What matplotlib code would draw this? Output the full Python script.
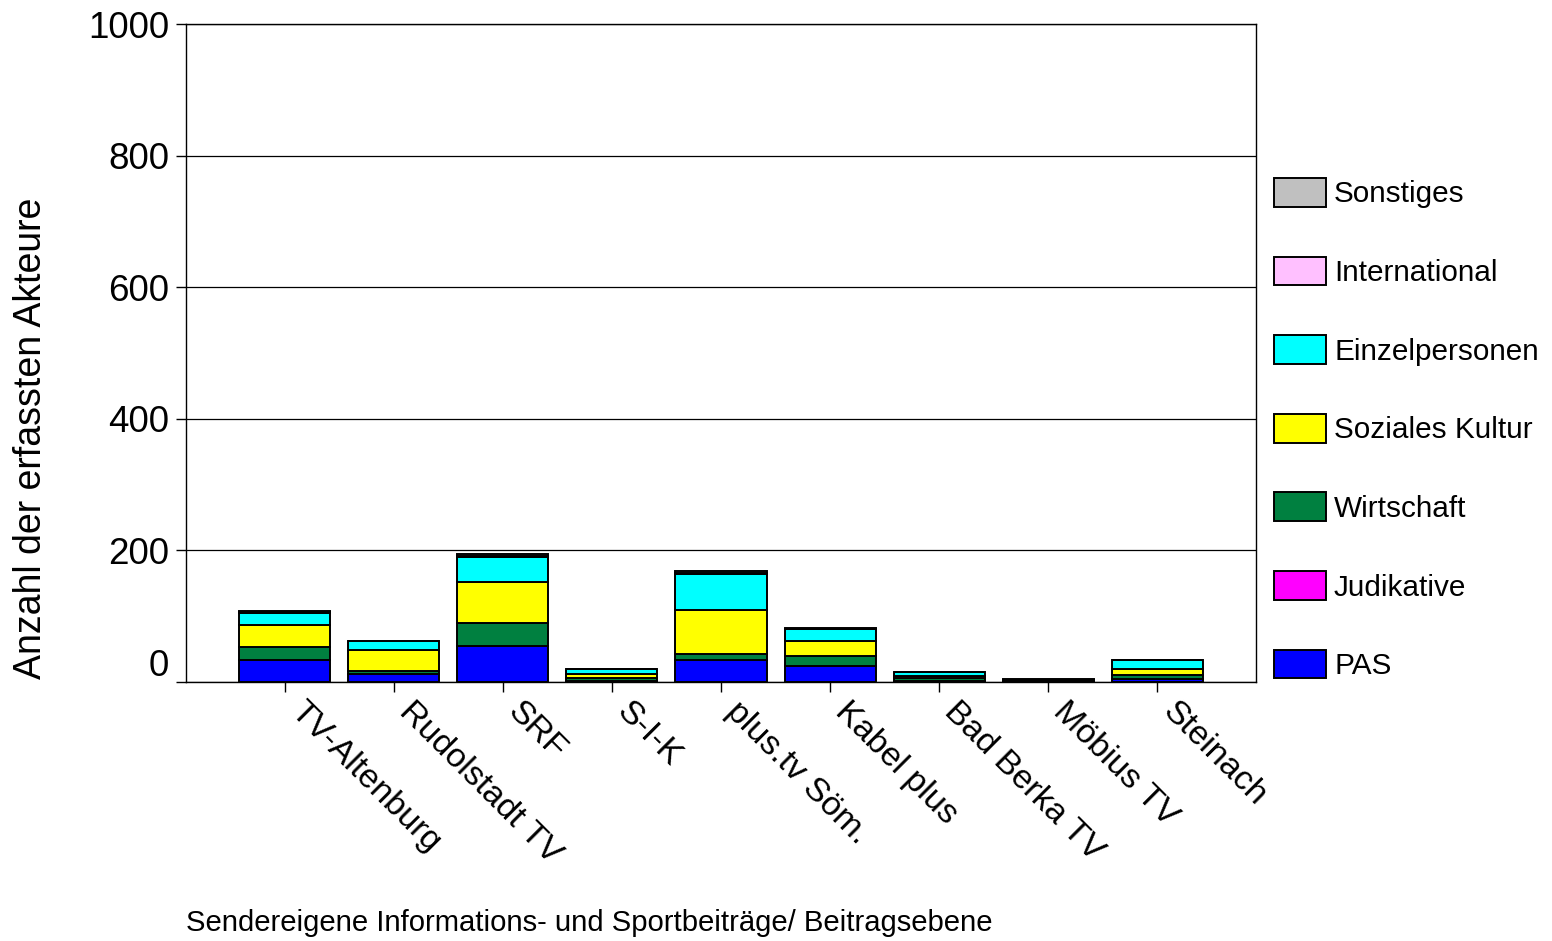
import matplotlib
matplotlib.use("Agg")
import matplotlib.pyplot as plt
import matplotlib.transforms as mtransforms
import numpy as np

plt.rcParams["font.family"] = ["Liberation Sans", "DejaVu Sans"]

# Sender (Kategorien)
sender = ["TV-Altenburg", "Rudolstadt TV", "SRF", "S-I-K", "plus.tv Söm.",
          "Kabel plus", "Bad Berka TV", "Möbius TV", "Steinach"]

# Akteursgruppen, von unten nach oben gestapelt
pas = [34, 12, 54, 2, 33, 25, 2, 1, 5]
judikative = [0, 0, 0, 0, 0, 0, 0, 0, 0]
wirtschaft = [19, 4, 36, 4, 9, 15, 4, 1, 6]
soziales_kultur = [34, 32, 62, 6, 68, 23, 3, 0, 8]
einzelpersonen = [18, 15, 38, 8, 54, 18, 6, 1, 14]
international = [1, 0, 1, 0, 1, 0, 0, 0, 0]
sonstiges = [2, 0, 3, 0, 3, 1, 0, 1, 0]

gruppen = ["PAS", "Judikative", "Wirtschaft", "Soziales Kultur",
           "Einzelpersonen", "International", "Sonstiges"]
werte = [pas, judikative, wirtschaft, soziales_kultur,
         einzelpersonen, international, sonstiges]
farben = ["#0000FF", "#FF00FF", "#008040", "#FFFF00",
          "#00FFFF", "#FFC0FF", "#C0C0C0"]

fig = plt.figure(figsize=(15.52, 9.41), dpi=100)
ax = fig.add_axes([186 / 1552, 1 - 682 / 941, 1070 / 1552, 658 / 941])

x = np.arange(len(sender))
unten = np.zeros(len(sender))
handles = []
for name, vals, farbe in zip(gruppen, werte, farben):
    b = ax.bar(x, vals, 0.835, bottom=unten, color=farbe, edgecolor="black",
               linewidth=1.4, label=name, zorder=3)
    handles.append(b)
    unten += np.array(vals)

ax.set_xlim(-0.905, len(sender) - 1 + 0.905)
ax.set_ylim(0, 1000)
ax.set_yticks(range(0, 1001, 200))
ax.yaxis.grid(True, color="black", linewidth=0.9, zorder=0)
for s in ax.spines.values():
    s.set_linewidth(1.0)

ax.tick_params(axis="y", labelsize=26.5, length=7, width=1.0, pad=5)
ax.tick_params(axis="x", labelsize=24.5, length=7, width=1.0, pad=3)
ax.set_xticks(x)
ax.set_xticklabels(sender, rotation=-45, ha="left", va="top",
                   rotation_mode="anchor")
off = mtransforms.ScaledTranslation(0.21, 0, fig.dpi_scale_trans)
for lab in ax.get_xticklabels():
    lab.set_transform(lab.get_transform() + off)

# die 0 sitzt im Original etwas höher
null = ax.get_yticklabels()[0]
null.set_transform(null.get_transform()
                   + mtransforms.ScaledTranslation(0, 0.2, fig.dpi_scale_trans))

fig.text(31 / 1552, 1 - 438 / 941, "Anzahl der erfassten Akteure",
         rotation=90, ha="center", va="center", fontsize=27)
fig.text(186 / 1552, 1 - 923 / 941,
         "Sendereigene Informations- und Sportbeiträge/ Beitragsebene",
         ha="left", va="center", fontsize=21.1)

leg = ax.legend(handles[::-1], gruppen[::-1], loc="upper left",
                bbox_to_anchor=(1274 / 1552, 1 - 178 / 941),
                bbox_transform=fig.transFigure, frameon=False, fontsize=21.4,
                handlelength=1.75, handleheight=1.11, handletextpad=0.27,
                labelspacing=1.62, borderpad=0, borderaxespad=0)

fig.savefig("out.png", dpi=100)
